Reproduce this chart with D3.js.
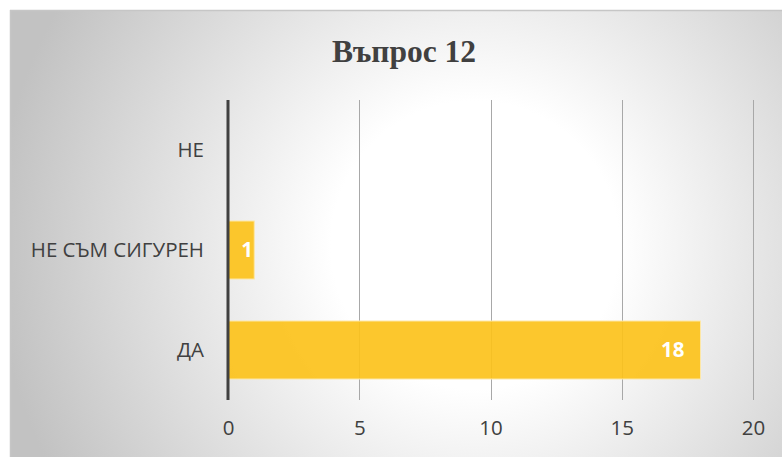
<!DOCTYPE html>
<html>
<head>
<meta charset="utf-8">
<script src="https://cdn.jsdelivr.net/npm/d3@7"></script>
<style>
  body { margin: 0; background: #fff; }
</style>
</head>
<body>
<div class="chart"></div>
<script>
// data
const categories = ["ДА", "НЕ СЪМ СИГУРЕН", "НЕ"];
const values = [18, 1, 0];
const xTicks = [0, 5, 10, 15, 20];
const title = "Въпрос 12";

const W = 782, H = 457;
const plot = {left: 228, right: 753, top: 100, bottom: 400};

var svg = d3.select(".chart").append("svg")
    .attr("width", W)
    .attr("height", H);

// background gradient like the office chart style
const defs = svg.append("defs");
const grad = defs.append("radialGradient")
    .attr("id", "bg")
    .attr("gradientUnits", "userSpaceOnUse")
    .attr("cx", 475).attr("cy", 245).attr("r", 480);
grad.append("stop").attr("offset", "0%").attr("stop-color", "#ffffff");
grad.append("stop").attr("offset", "30%").attr("stop-color", "#ffffff");
grad.append("stop").attr("offset", "100%").attr("stop-color", "#c2c2c2");

svg.append("rect")
    .attr("x", 10).attr("y", 10)
    .attr("width", W - 10).attr("height", H - 10)
    .attr("fill", "url(#bg)");
svg.append("line")
    .attr("x1", 10).attr("x2", W).attr("y1", 10.5).attr("y2", 10.5)
    .attr("stroke", "#c6c6c6").attr("stroke-width", 1.5);
svg.append("line")
    .attr("x1", 10.5).attr("x2", 10.5).attr("y1", 10).attr("y2", H)
    .attr("stroke", "#c6c6c6").attr("stroke-width", 1.5);

const xScale = d3.scaleLinear()
    .domain([0, 20])
    .range([plot.left, plot.right]);

const yScale = d3.scaleBand()
    .domain(categories)
    .range([plot.bottom, plot.top])
    .paddingInner(0.42)
    .paddingOuter(0.21);

// gridlines
svg.append("g")
    .selectAll("line")
    .data(xTicks.filter(d => d > 0))
    .join("line")
    .attr("x1", d => Math.round(xScale(d)) + 0.5)
    .attr("x2", d => Math.round(xScale(d)) + 0.5)
    .attr("y1", plot.top)
    .attr("y2", plot.bottom)
    .attr("stroke", "#a8a8a8")
    .attr("stroke-width", 1);

// bars
svg.append("g")
    .selectAll("rect")
    .data(values)
    .join("rect")
    .attr("x", xScale(0))
    .attr("y", (d, i) => yScale(categories[i]))
    .attr("width", d => xScale(d) - xScale(0))
    .attr("height", yScale.bandwidth())
    .attr("fill", "#fcc21b")
    .attr("fill-opacity", 0.92)
    .attr("stroke", "#fde7a6")
    .attr("stroke-width", d => d > 0 ? 1 : 0);

// value labels
svg.append("g")
    .selectAll("text")
    .data(values)
    .join("text")
    .filter(d => d > 0)
    .attr("x", d => Math.max(xScale(d) - 16, xScale(0) + 25))
    .attr("y", (d, i) => yScale(categories[i]) + yScale.bandwidth() / 2)
    .attr("dy", "0.36em")
    .attr("text-anchor", "end")
    .attr("fill", "#ffffff")
    .attr("font-family", "'Open Sans', sans-serif")
    .attr("font-weight", "bold")
    .attr("font-size", 20.5)
    .text(d => d);

// y axis line
svg.append("line")
    .attr("x1", xScale(0)).attr("x2", xScale(0))
    .attr("y1", plot.top).attr("y2", plot.bottom)
    .attr("stroke", "#404040")
    .attr("stroke-width", 3);

// category labels
const yAxis = d3.axisLeft(yScale).tickSize(0).tickPadding(24);
svg.append("g")
    .attr("transform", "translate(" + xScale(0) + ",0)")
    .call(yAxis)
    .call(g => g.select(".domain").remove())
    .selectAll("text")
    .attr("fill", "#404040")
    .attr("font-family", "'Open Sans', sans-serif")
    .attr("font-size", 20.5);

// x tick labels
const xAxis = d3.axisBottom(xScale).tickValues(xTicks).tickSize(0).tickPadding(20);
svg.append("g")
    .attr("transform", "translate(0," + plot.bottom + ")")
    .call(xAxis)
    .call(g => g.select(".domain").remove())
    .selectAll("text")
    .attr("fill", "#404040")
    .attr("font-family", "'Open Sans', sans-serif")
    .attr("font-size", 20.5);

// title
svg.append("text")
    .text(title)
    .attr("x", 404)
    .attr("y", 62)
    .attr("text-anchor", "middle")
    .attr("fill", "#404040")
    .attr("font-family", "'Liberation Serif', 'Times New Roman', serif")
    .attr("font-weight", "bold")
    .attr("font-size", 31.5);
</script>
</body>
</html>
